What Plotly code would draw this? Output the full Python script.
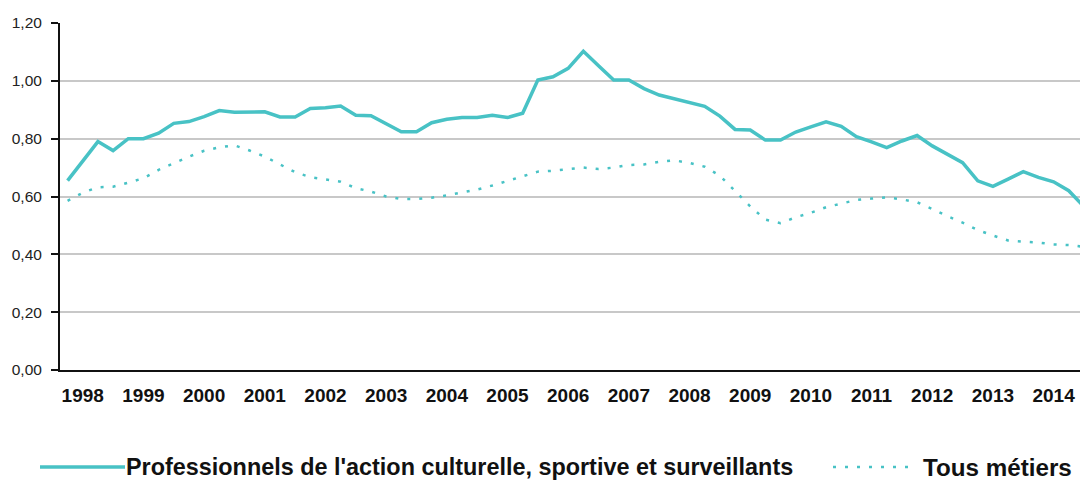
import plotly.graph_objects as go

years = [str(y) for y in range(1998, 2015)]
quarters_per_year = 4

# Quarterly values, 1998 Q1 .. 2014 Q4
pro_culture = [
    0.655, 0.724, 0.790, 0.759, 0.800, 0.800, 0.819, 0.853, 0.859, 0.876, 0.897, 0.891,
    0.893, 0.893, 0.875, 0.875, 0.904, 0.907, 0.913, 0.881, 0.879, 0.850, 0.824, 0.824,
    0.855, 0.867, 0.873, 0.873, 0.881, 0.873, 0.888, 1.003, 1.014, 1.043, 1.102, 1.052,
    1.003, 1.003, 0.973, 0.951, 0.938, 0.923, 0.912, 0.878, 0.832, 0.830, 0.795, 0.795,
    0.823, 0.841, 0.858, 0.843, 0.807, 0.789, 0.769, 0.792, 0.811, 0.775, 0.746, 0.717,
    0.654, 0.635, 0.660, 0.686, 0.666, 0.651, 0.620, 0.565,
]
tous_metiers = [
    0.585, 0.613, 0.632, 0.634, 0.648, 0.663, 0.692, 0.716, 0.738, 0.758, 0.770, 0.777,
    0.759, 0.738, 0.711, 0.684, 0.667, 0.660, 0.651, 0.629, 0.617, 0.600, 0.591, 0.591,
    0.596, 0.604, 0.614, 0.624, 0.638, 0.654, 0.672, 0.686, 0.689, 0.695, 0.700, 0.695,
    0.700, 0.709, 0.711, 0.720, 0.725, 0.716, 0.703, 0.672, 0.620, 0.566, 0.520, 0.508,
    0.528, 0.544, 0.563, 0.575, 0.588, 0.593, 0.597, 0.590, 0.580, 0.557, 0.532, 0.510,
    0.484, 0.465, 0.448, 0.444, 0.441, 0.434, 0.432, 0.426,
]
y_ticks = [0.0, 0.2, 0.4, 0.6, 0.8, 1.0, 1.2]
legend_labels = ["Professionnels de l'action culturelle, sportive et surveillants", "Tous métiers"]

COLOR = "#48C2C5"
FONT = "Liberation Sans, Arial, sans-serif"
idx = list(range(len(pro_culture)))
tick_pos = [k * quarters_per_year + 1 for k in range(len(years))]

fig = go.Figure()
fig.add_trace(go.Scatter(x=idx, y=tous_metiers, mode="lines", name=legend_labels[1],
                         line=dict(color=COLOR, width=2.5, dash="3px,9px"), showlegend=False))
fig.add_trace(go.Scatter(x=idx, y=pro_culture, mode="lines", name=legend_labels[0],
                         line=dict(color=COLOR, width=3.5), showlegend=False))

W, H = 1080, 480
L, R, T, B = 60, 0, 23, 110
pw, ph = W - L - R, H - T - B
def px(xp):
    return (xp - L) / pw
def py(yp):
    return (H - B - yp) / ph

fig.update_layout(
    width=W, height=H,
    margin=dict(l=L, r=R, t=T, b=B),
    paper_bgcolor="white", plot_bgcolor="white",
    separators=", ",
    showlegend=False,
    font=dict(family=FONT, color="#111"),
)
fig.update_xaxes(
    range=[-0.5, 66.74], tickvals=tick_pos, ticktext=years,
    showgrid=False, zeroline=False, automargin=False,
    showline=True, linecolor="#111", linewidth=2,
    ticks="", ticklabelstandoff=7,
    tickfont=dict(size=19, family=FONT, color="#111", weight="bold"),
)
fig.update_yaxes(
    range=[0, 1.2], tickvals=y_ticks, tickformat=".2f", automargin=False,
    showgrid=True, gridcolor="#C8C8C8", gridwidth=1.5,
    zeroline=False, showline=True, linecolor="#111", linewidth=2,
    ticks="outside", ticklen=7, tickcolor="#111", tickwidth=1.5,
    ticklabelstandoff=6,
    tickfont=dict(size=15.5, family=FONT, color="#222"),
)

ly = 467
shapes = [
    dict(type="line", xref="paper", yref="paper", x0=px(40), x1=px(125), y0=py(ly), y1=py(ly),
         line=dict(color=COLOR, width=3.5)),
    dict(type="line", xref="paper", yref="paper", x0=px(833), x1=px(916), y0=py(ly), y1=py(ly),
         line=dict(color=COLOR, width=2.5, dash="3px,9px")),
]
fig.update_layout(shapes=shapes)
fig.add_annotation(xref="paper", yref="paper", x=px(124), y=py(ly), text=legend_labels[0],
                   showarrow=False, xanchor="left", yanchor="middle",
                   font=dict(size=23.4, family=FONT, color="#111", weight="bold"))
fig.add_annotation(xref="paper", yref="paper", x=px(921), y=py(ly), text=legend_labels[1],
                   showarrow=False, xanchor="left", yanchor="middle",
                   font=dict(size=24.2, family=FONT, color="#111", weight="bold"))

fig.write_html("out.html", config={"displayModeBar": False},
               post_script="document.body.style.margin='0';document.body.style.overflow='hidden';")
